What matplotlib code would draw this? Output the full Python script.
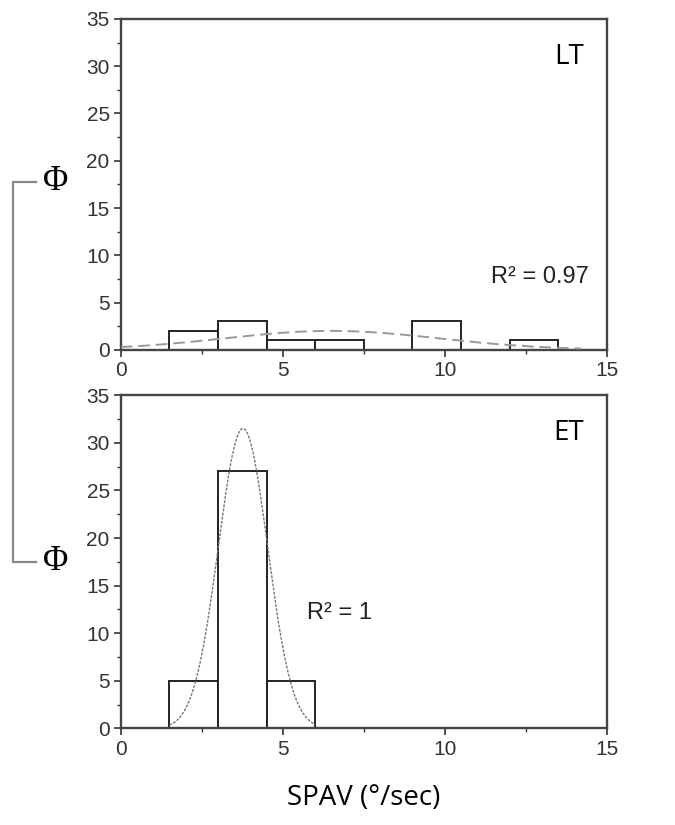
import numpy as np
import matplotlib
matplotlib.use("Agg")
from matplotlib import pyplot as plt
from matplotlib.ticker import MultipleLocator
from matplotlib.lines import Line2D

# histogram bins (left edges, width 1.5) and counts
lt_left = [1.5, 3.0, 4.5, 6.0, 9.0, 12.0]
lt_counts = [2, 3, 1, 1, 3, 1]
et_left = [1.5, 3.0, 4.5]
et_counts = [5, 27, 5]
bin_width = 1.5

# gaussian fit parameters (amplitude, centre, sigma)
lt_fit = (2.0, 6.5, 3.3)
et_fit = (31.5, 3.77, 0.76)

panel_labels = ["LT", "ET"]
r2_labels = ["R\u00b2 = 0.97", "R\u00b2 = 1"]
xticks = [0, 5, 10, 15]
yticks = [0, 5, 10, 15, 20, 25, 30, 35]

TICK_FONT = "Liberation Sans"
TEXT_FONT = "Open Sans"
EDGE = "#222222"


def gauss(x, amp, mu, sig):
    return amp * np.exp(-(x - mu) ** 2 / (2 * sig ** 2))


def style_axes(ax):
    ax.set_xlim(0, 15)
    ax.set_ylim(0, 35)
    ax.set_xticks(xticks)
    ax.set_yticks(yticks)
    ax.xaxis.set_minor_locator(MultipleLocator(2.5))
    ax.yaxis.set_minor_locator(MultipleLocator(2.5))
    ax.tick_params(which="major", direction="out", length=5, width=1.2,
                   colors="#333333", labelsize=15, pad=3)
    ax.tick_params(which="minor", direction="out", length=3, width=1.0,
                   colors="#333333")
    for lab in ax.get_xticklabels() + ax.get_yticklabels():
        lab.set_fontfamily(TICK_FONT)
    for sp in ax.spines.values():
        sp.set_linewidth(1.7)
        sp.set_color("#444444")


fig = plt.figure(figsize=(6.75, 8.25), dpi=100)
ax_top = fig.add_axes([0.179, 0.576, 0.720, 0.401])
ax_bot = fig.add_axes([0.179, 0.117, 0.720, 0.404])

xs = np.linspace(0, 14.2, 300)

# LT panel
ax_top.bar(lt_left, lt_counts, width=bin_width, align="edge",
           facecolor="white", edgecolor=EDGE, linewidth=1.4, zorder=2)
ax_top.plot(xs, gauss(xs, *lt_fit), color="#999999", linestyle=(0, (6, 3)),
            linewidth=1.4, zorder=3)
style_axes(ax_top)
ax_top.text(14.3, 31.0, panel_labels[0], fontsize=20, fontfamily=TEXT_FONT,
            ha="right", va="center")
ax_top.text(14.45, 7.7, r2_labels[0], fontsize=17, fontfamily=TICK_FONT,
            ha="right", va="center", color="#222222")

# ET panel
xe = np.linspace(1.5, 6.0, 300)
ax_bot.bar(et_left, et_counts, width=bin_width, align="edge",
           facecolor="white", edgecolor=EDGE, linewidth=1.4, zorder=2)
ax_bot.plot(xe, gauss(xe, *et_fit), color="#777777", linestyle=(0, (2, 1)),
            linewidth=1.0, zorder=3)
style_axes(ax_bot)
ax_bot.text(14.3, 31.0, panel_labels[1], fontsize=20, fontfamily=TEXT_FONT,
            ha="right", va="center")
ax_bot.text(5.74, 12.1, r2_labels[1], fontsize=17, fontfamily=TICK_FONT,
            ha="left", va="center", color="#222222")

ax_bot.set_xlabel("SPAV (°/sec)", fontsize=20, fontfamily=TEXT_FONT, labelpad=18)

# shared Phi bracket on the left
phi_y = [1 - 182 / 825, 1 - 562 / 825]
for py in phi_y:
    fig.text(56 / 675, py, "\u03a6", fontsize=25, fontfamily="Liberation Serif",
             ha="center", va="center")
bx = [36 / 675, 13 / 675, 13 / 675, 36 / 675]
by = [phi_y[0], phi_y[0], phi_y[1], phi_y[1]]
fig.add_artist(Line2D(bx, by, transform=fig.transFigure, color="#888888",
                      linewidth=1.6))

fig.savefig("out.png", dpi=100, facecolor="white")
